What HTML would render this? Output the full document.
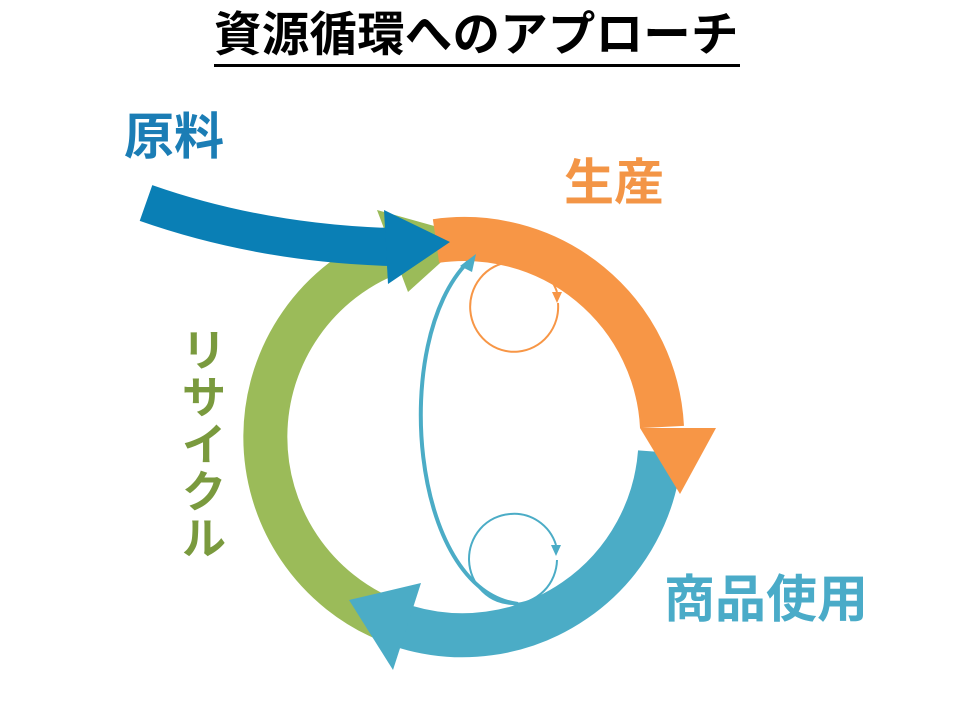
<!DOCTYPE html>
<html><head><meta charset="utf-8"><style>
html,body{margin:0;padding:0;background:#fff;}
body{width:960px;height:720px;position:relative;overflow:hidden;font-family:"Liberation Sans","Noto Sans CJK JP",sans-serif;}
.t{position:absolute;font-weight:bold;white-space:nowrap;line-height:1;}
</style></head><body>
<div class="t" style="left:214px;top:12px;font-size:47.5px;color:#000;letter-spacing:0.2px;">資源循環へのアプローチ</div>
<div style="position:absolute;left:214px;top:64px;width:526px;height:3px;background:#000;"></div>
<div class="t" style="left:124px;top:112px;font-size:50px;color:#1b7db5;">原料</div>
<div class="t" style="left:564px;top:158px;font-size:50px;color:#f39546;">生産</div>
<div class="t" style="left:664px;top:574px;font-size:51px;color:#4aabc8;">商品使用</div>
<div class="t" style="left:181px;top:328px;font-size:44px;color:#7a9a3e;width:46px;line-height:47px;text-align:center;white-space:normal;">リ<br>サ<br>イ<br>ク<br>ル</div>
<svg width="960" height="720" style="position:absolute;left:0;top:0">
  <path d="M390,621 A198,198 0 0 1 393,252" fill="none" stroke="#9bbb59" stroke-width="44"/>
  <polygon points="408,292 377,210 470,236" fill="#9bbb59"/>
  <path d="M436,241 A198,198 0 0 1 662,427" fill="none" stroke="#f79646" stroke-width="44"/>
  <path d="M660,452 A198,198 0 0 1 406,627" fill="none" stroke="#4bacc6" stroke-width="44"/>
  <polygon points="421,583 393,670 349,600" fill="#4bacc6"/>
  <polygon points="640,428 716,428 680,494" fill="#f79646"/>
  <path d="M146,203 Q260,243 390,247" fill="none" stroke="#0a7fb5" stroke-width="38"/>
  <polygon points="384,210 388,284 450,242" fill="#0a7fb5"/>
  <path d="M518,604 C410,590 390,340 468,262" fill="none" stroke="#4bacc6" stroke-width="4"/>
  <polygon points="476,254 460,266 472,272" fill="#4bacc6"/>
  <path d="M558,303 A44,45 0 1 1 510,262" fill="none" stroke="#f79646" stroke-width="2"/>
  <path d="M510,262 A44,45 0 0 1 557,292" fill="none" stroke="#f79646" stroke-width="2"/>
  <polygon points="552,292 562,292 557,303" fill="#f79646"/>
  <path d="M557,560 A44,45 0 1 1 510,514" fill="none" stroke="#4bacc6" stroke-width="2"/>
  <path d="M510,514 A44,45 0 0 1 556,545" fill="none" stroke="#4bacc6" stroke-width="2"/>
  <polygon points="551,545 561,545 556,556" fill="#4bacc6"/>
</svg>
</body></html>
